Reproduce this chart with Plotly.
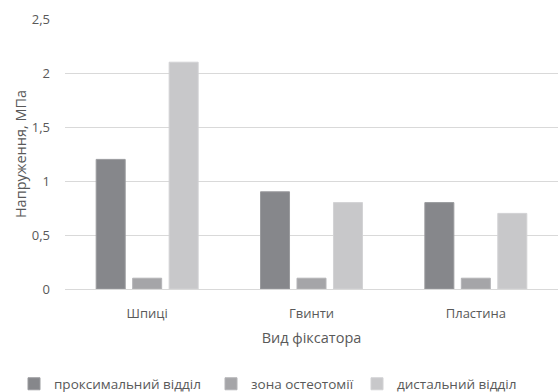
import plotly.graph_objects as go

categories = ["Шпиці", "Гвинти", "Пластина"]
series_names = ["проксимальний відділ", "зона остеотомії", "дистальний відділ"]
proximal = [1.2, 0.9, 0.8]
osteotomy = [0.1, 0.1, 0.1]
distal = [2.1, 0.8, 0.7]
colors = ["#86878b", "#a5a5a8", "#c8c8ca"]
edge_colors = ["#9a9b9e", "#b4b4b7", "#d2d2d4"]
y_ticks = [0, 0.5, 1, 1.5, 2, 2.5]

values = [proximal, osteotomy, distal]
legend_ids = ["legend", "legend2", "legend3"]
legend_x = [14, 211, 357]

FONT = "Open Sans"
TXT = "#595959"

fig = go.Figure()
for name, vals, c, ec, lid in zip(series_names, values, colors, edge_colors, legend_ids):
    fig.add_trace(go.Bar(
        x=categories, y=vals, name=name,
        marker=dict(color=c, line=dict(color=ec, width=1)),
        legend=lid,
    ))

legend_common = dict(
    orientation="h", xref="container", yref="container",
    yanchor="middle", xanchor="left",
    font=dict(family=FONT, size=13.5, color=TXT),
    bgcolor="rgba(0,0,0,0)", borderwidth=0,
    itemwidth=30,
)
legends = {}
for lid, lx in zip(legend_ids, legend_x):
    legends[lid] = dict(legend_common, x=lx / 558, y=1 - 384 / 392)

fig.update_layout(
    width=558, height=392,
    margin=dict(l=65, r=0, t=19, b=103),
    paper_bgcolor="white", plot_bgcolor="white",
    separators=", ",
    barmode="group", bargap=0.334, bargroupgap=0.205,
    font=dict(family=FONT, size=12, color=TXT),
    showlegend=True,
    xaxis=dict(
        type="category",
        tickfont=dict(family=FONT, size=13, color=TXT),
        ticklabelstandoff=12,
        title=dict(text="Вид фіксатора", font=dict(family=FONT, size=14.5, color=TXT), standoff=12),
        showline=True, linecolor="#d9d9d9", linewidth=1,
        ticks="", showgrid=False,
    ),
    yaxis=dict(
        range=[0, 2.5], tickvals=y_ticks,
        tickfont=dict(family=FONT, size=13, color=TXT),
        title=dict(text="Напруження, МПа", font=dict(family=FONT, size=14.5, color=TXT), standoff=1),
        showgrid=True, gridcolor="#d9d9d9", gridwidth=1,
        zeroline=False, ticks="", ticklabelstandoff=14,
    ),
    **legends,
)

fig.write_html("out.html")
